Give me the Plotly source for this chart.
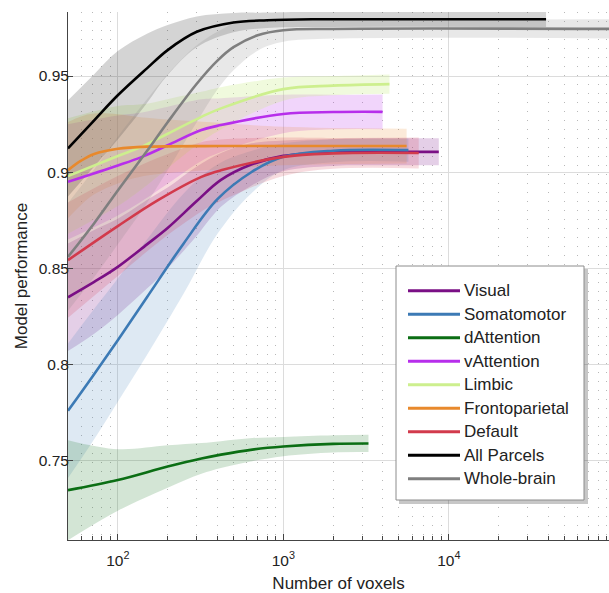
import plotly.graph_objects as go

# ---------------- data ----------------
series_names = ["Visual", "Somatomotor", "dAttention", "vAttention", "Limbic",
                "Frontoparietal", "Default", "All Parcels", "Whole-brain"]

visual_x = [50, 72, 100, 150, 200, 300, 420, 640, 1000, 2000, 4000, 8700]
visual_y = [0.835, 0.843, 0.8508, 0.8625, 0.871, 0.885, 0.896, 0.904, 0.9085, 0.9103, 0.9106, 0.9106]
visual_ci = [0.028, 0.027, 0.025, 0.023, 0.021, 0.018, 0.014, 0.011, 0.008, 0.007, 0.007, 0.007]

somato_x = [50, 70, 100, 150, 250, 400, 640, 1000, 2000, 5700]
somato_y = [0.776, 0.7936, 0.8127, 0.835, 0.863, 0.886, 0.900, 0.908, 0.9112, 0.9115]
somato_ci = [0.035, 0.034, 0.032, 0.030, 0.026, 0.018, 0.011, 0.007, 0.006, 0.006]

datt_x = [50, 100, 200, 320, 420, 650, 1000, 2000, 3270]
datt_y = [0.7347, 0.740, 0.747, 0.7512, 0.7532, 0.7558, 0.7574, 0.7588, 0.759]
datt_ci = [0.026, 0.016, 0.011, 0.008, 0.007, 0.006, 0.005, 0.0045, 0.0045]

vatt_x = [50, 100, 140, 200, 320, 420, 1000, 2000, 3980]
vatt_y = [0.895, 0.9035, 0.908, 0.914, 0.9219, 0.9245, 0.9303, 0.9313, 0.9314]
vatt_ci = [0.030, 0.026, 0.023, 0.020, 0.016, 0.014, 0.010, 0.009, 0.009]

limbic_x = [50, 100, 140, 200, 320, 420, 1000, 2000, 4380]
limbic_y = [0.898, 0.9084, 0.9133, 0.920, 0.9288, 0.9332, 0.9432, 0.9450, 0.9458]
limbic_ci = [0.030, 0.026, 0.022, 0.018, 0.013, 0.011, 0.006, 0.005, 0.005]

fronto_x = [50, 60, 72, 100, 150, 420, 1000, 5560]
fronto_y = [0.9011, 0.906, 0.9095, 0.9122, 0.9133, 0.9136, 0.9136, 0.9136]
fronto_ci = [0.025, 0.023, 0.021, 0.018, 0.015, 0.012, 0.010, 0.009]

default_x = [50, 100, 175, 320, 420, 1000, 2000, 6580]
default_y = [0.8543, 0.872, 0.8855, 0.8976, 0.901, 0.9080, 0.9098, 0.910]
default_ci = [0.030, 0.026, 0.022, 0.018, 0.016, 0.010, 0.008, 0.008]

allp_x = [50, 72, 100, 150, 200, 300, 500, 800, 1500, 38700]
allp_y = [0.9124, 0.927, 0.940, 0.954, 0.9635, 0.9730, 0.9778, 0.979, 0.9795, 0.9795]
allp_ci = [0.025, 0.024, 0.023, 0.018, 0.013, 0.008, 0.005, 0.004, 0.004, 0.004]

whole_x = [50, 72, 100, 150, 200, 300, 400, 500, 700, 1000, 2000, 100000]
whole_y = [0.856, 0.8735, 0.8905, 0.911, 0.926, 0.946, 0.958, 0.965, 0.9712, 0.9738, 0.9745, 0.9745]
whole_ci = [0.028, 0.028, 0.028, 0.027, 0.025, 0.020, 0.015, 0.012, 0.008, 0.006, 0.005, 0.005]

x_tickvals = [100, 1000, 10000]
x_ticktext = ["10<sup>2</sup>", "10<sup>3</sup>", "10<sup>4</sup>"]
y_tickvals = [0.75, 0.80, 0.85, 0.90, 0.95]
y_ticktext = ["0.75", "0.8", "0.85", "0.9", "0.95"]

# ---------------- styling ----------------
line_colors = ["#7A0F85", "#3C7AB5", "#0B6E14", "#B72EEB", "#CDEF8E",
               "#E8892C", "#D23A4C", "#000000", "#7F7F7F"]
band_colors = ["rgba(122,15,133,0.20)", "rgba(60,122,181,0.17)", "rgba(11,110,20,0.18)",
               "rgba(183,46,235,0.20)", "rgba(205,239,142,0.30)", "rgba(232,137,44,0.18)",
               "rgba(210,58,76,0.18)", "rgba(0,0,0,0.17)", "rgba(127,127,127,0.18)"]

data = [
    (visual_x, visual_y, visual_ci),
    (somato_x, somato_y, somato_ci),
    (datt_x, datt_y, datt_ci),
    (vatt_x, vatt_y, vatt_ci),
    (limbic_x, limbic_y, limbic_ci),
    (fronto_x, fronto_y, fronto_ci),
    (default_x, default_y, default_ci),
    (allp_x, allp_y, allp_ci),
    (whole_x, whole_y, whole_ci),
]

fig = go.Figure()

# confidence bands: lower edge, then upper edge filled to it
for (xs, ys, ci), name, bc in zip(data, series_names, band_colors):
    upper = [y + c for y, c in zip(ys, ci)]
    lower = [y - c for y, c in zip(ys, ci)]
    fig.add_trace(go.Scatter(
        x=xs, y=lower, mode="lines",
        line=dict(width=0, color=bc, shape="spline", smoothing=1.0),
        hoverinfo="skip", showlegend=False, name=name + " lower"))
    fig.add_trace(go.Scatter(
        x=xs, y=upper, mode="lines", fill="tonexty", fillcolor=bc,
        line=dict(width=0, color=bc, shape="spline", smoothing=1.0),
        hoverinfo="skip", showlegend=False, name=name + " upper"))

# mean lines
for (xs, ys, ci), name, lc in zip(data, series_names, line_colors):
    fig.add_trace(go.Scatter(
        x=xs, y=ys, mode="lines", name=name,
        line=dict(color=lc, width=2.6, shape="spline", smoothing=1.0),
        showlegend=False))

# ---------------- custom legend (MATLAB-like box with shadow) ----------------
W, H = 609, 593
L, R, T, B = 68, 0, 12, 53
pw, ph = W - L - R, H - T - B


def px(xp):
    return (xp - L) / pw


def py(yp):
    return (H - B - yp) / ph


shapes = []
box = (396, 266, 584, 500)
shapes.append(dict(type="rect", xref="paper", yref="paper",
                   x0=px(box[0] + 3), x1=px(box[2] + 4), y0=py(box[1] + 3), y1=py(box[3] + 4),
                   fillcolor="rgba(0,0,0,0.22)", line=dict(width=0), layer="above"))
shapes.append(dict(type="rect", xref="paper", yref="paper",
                   x0=px(box[0]), x1=px(box[2]), y0=py(box[1]), y1=py(box[3]),
                   fillcolor="white", line=dict(color="#8c8c8c", width=1), layer="above"))
annotations = []
for i, (name, lc) in enumerate(zip(series_names, line_colors)):
    yy = 290.7 + i * 23.5
    shapes.append(dict(type="line", xref="paper", yref="paper",
                       x0=px(408), x1=px(460), y0=py(yy), y1=py(yy),
                       line=dict(color=lc, width=3), layer="above"))
    annotations.append(dict(xref="paper", yref="paper", x=px(462), y=py(yy),
                            text=name, showarrow=False, xanchor="left", yanchor="middle",
                            font=dict(size=17, color="#222222", family="Liberation Sans, Arial, sans-serif")))

minor_vals = [m * 10 ** e for e in range(1, 5) for m in range(2, 10) if 50 <= m * 10 ** e <= 95000]

fig.update_layout(
    width=W, height=H,
    margin=dict(l=L, r=R, t=T, b=B, pad=0, autoexpand=False),
    paper_bgcolor="white", plot_bgcolor="white",
    font=dict(family="Liberation Sans, Arial, sans-serif", color="#222222"),
    shapes=shapes, annotations=annotations,
    showlegend=False, hovermode=False,
    xaxis=dict(
        type="log", range=[1.699, 4.968], automargin=False,
        tickmode="array", tickvals=x_tickvals, ticktext=x_ticktext,
        ticks="inside", ticklen=6, tickcolor="#444444", ticklabelstandoff=6,
        showline=True, linecolor="#444444", linewidth=1,
        showgrid=True, gridcolor="#dcdcdc", gridwidth=1,
        tickfont=dict(size=15.5, color="#222222"),
        minor=dict(tickmode="array", tickvals=minor_vals, ticks="inside", ticklen=4,
                   tickcolor="#444444", showgrid=True, gridcolor="#b8b8b8",
                   griddash="1px,8px", gridwidth=1),
        title=dict(text="Number of voxels", font=dict(size=17, color="#222222"), standoff=14),
        zeroline=False,
    ),
    yaxis=dict(
        range=[0.7088, 0.9833], automargin=False,
        tickmode="array", tickvals=y_tickvals, ticktext=y_ticktext,
        ticks="inside", ticklen=5, tickcolor="#444444", ticklabelstandoff=-5,
        showline=True, linecolor="#444444", linewidth=1,
        showgrid=True, gridcolor="#dcdcdc", gridwidth=1,
        tickfont=dict(size=15.5, color="#222222"),
        title=dict(text="Model performance", font=dict(size=17, color="#222222"), standoff=6),
        zeroline=False,
    ),
)

fig.write_html("out.html", config={"displayModeBar": False},
               post_script="document.body.style.margin='0px';document.body.style.padding='0px';")
